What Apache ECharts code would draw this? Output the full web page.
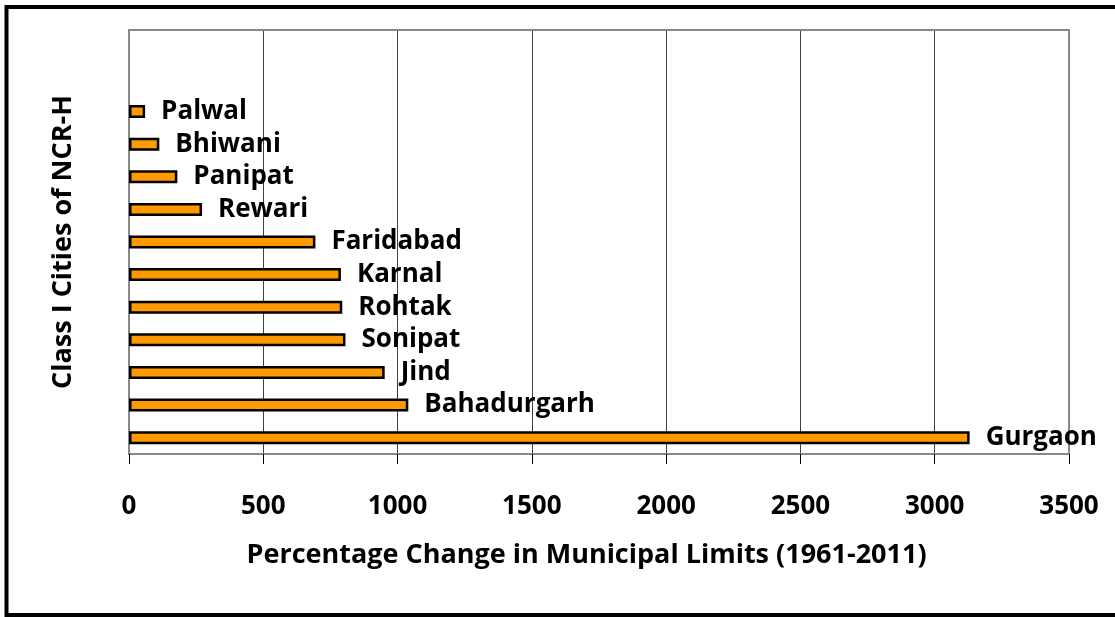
<!DOCTYPE html>
<html>
<head>
<meta charset="utf-8">
<script src="https://cdn.jsdelivr.net/npm/echarts@6/dist/echarts.min.js"></script>
<style>
html,body{margin:0;padding:0;background:#fff;overflow:hidden;}
#chart{width:1115px;height:617px;}
</style>
</head>
<body>
<div id="chart"></div>
<script>
// Data (bottom to top), two empty category slots at the top
const cities = ['Gurgaon','Bahadurgarh','Jind','Sonipat','Rohtak','Karnal','Faridabad','Rewari','Panipat','Bhiwani','Palwal','',''];
const changes = [3130, 1040, 952, 806, 794, 789, 694, 272, 180, 113, 60, '-', '-'];
const xTicks = [0, 500, 1000, 1500, 2000, 2500, 3000, 3500];
const xTitle = 'Percentage Change in Municipal Limits (1961-2011)';
const yTitle = 'Class I Cities of NCR-H';

const FONT = 'Open Sans';
const chart = echarts.init(document.getElementById('chart'), null, {renderer: 'canvas'});
chart.setOption({
  animation: false,
  backgroundColor: '#fff',
  graphic: [{
    type: 'rect',
    shape: {x: 6.5, y: 7, width: 1300, height: 608},
    style: {fill: 'none', stroke: '#000', lineWidth: 4},
    z: 100
  }, {
    type: 'line', shape: {x1: 128, y1: 30, x2: 1070, y2: 30},
    style: {stroke: '#888', lineWidth: 2}, z: 50
  }],
  grid: {left: 129, right: 46, top: 30, bottom: 163, containLabel: false, show: false},
  xAxis: {
    type: 'value',
    min: xTicks[0], max: xTicks[xTicks.length - 1], interval: 500,
    axisLine: {show: true, lineStyle: {color: '#888', width: 2}},
    axisTick: {show: true, length: 10, inside: false, lineStyle: {color: '#000', width: 1}},
    splitLine: {show: true, lineStyle: {color: '#404040', width: 1}},
    axisLabel: {color: '#000', fontFamily: FONT, fontWeight: 'bold', fontSize: 26, margin: 40,
      formatter: v => String(v)},
    name: xTitle, nameLocation: 'middle', nameGap: 88,
    nameTextStyle: {color: '#000', fontFamily: FONT, fontWeight: 'bold', fontSize: 27, padding: [0, 25, 0, 0]}
  },
  yAxis: [{
    type: 'category',
    data: cities,
    axisLine: {show: true, lineStyle: {color: '#888', width: 2}},
    axisTick: {show: false},
    axisLabel: {show: false},
    splitLine: {show: false},
    name: yTitle, nameLocation: 'middle', nameGap: 52, nameRotate: 90,
    nameTextStyle: {color: '#000', fontFamily: FONT, fontWeight: 'bold', fontSize: 27}
  }, {
    type: 'category', data: cities, position: 'right',
    axisLine: {show: true, lineStyle: {color: '#888', width: 2}},
    axisTick: {show: false}, axisLabel: {show: false}
  }],
  series: [{
    type: 'bar',
    data: changes,
    barWidth: 13,
    itemStyle: {color: '#FF9900', borderColor: '#000', borderWidth: 2.5},
    label: {show: true, position: 'right', distance: 16, color: '#000',
      fontFamily: FONT, fontWeight: 'bold', fontSize: 26,
      formatter: p => cities[p.dataIndex]}
  }]
});
</script>
</body>
</html>
